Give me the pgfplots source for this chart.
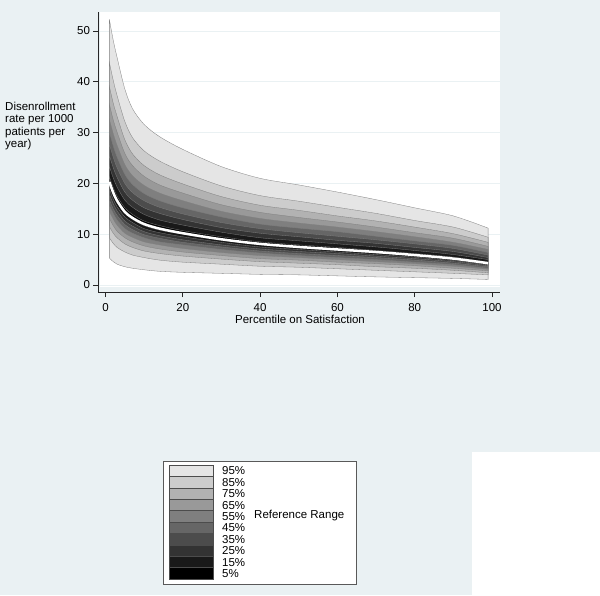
\documentclass[border=0pt]{standalone}
\usepackage{pgfplots}
\pgfplotsset{compat=1.18}
\usepackage{pgfplotstable}
\usepgfplotslibrary{fillbetween}
\usepackage{fontspec}
\setmainfont{Liberation Sans}
\definecolor{bgc}{HTML}{EAF1F3}
\definecolor{c95}{HTML}{E5E5E5}
\definecolor{c85}{HTML}{CCCCCC}
\definecolor{c75}{HTML}{B2B2B2}
\definecolor{c65}{HTML}{999999}
\definecolor{c55}{HTML}{7F7F7F}
\definecolor{c45}{HTML}{666666}
\definecolor{c35}{HTML}{4C4C4C}
\definecolor{c25}{HTML}{333333}
\definecolor{c15}{HTML}{191919}
\definecolor{c5}{HTML}{000000}

\pgfplotstableread{
x  m    l95  l85 l75  l65  l55  l45  l35  l25  l15  l5   u5   u15  u25  u35  u45  u55  u65  u75  u85  u95
1  20.3 5.3  9.3 11.5 13.1 14.5 15.7 16.8 17.9 18.9 19.8 21.3 23.4 25.5 27.7 30.1 32.6 35.6 39.1 43.8 52.3
2  18.2 4.6  8.2 10.2 11.7 13.0 14.1 15.0 16.0 16.9 17.8 19.2 21.1 23.1 25.2 27.4 29.8 32.5 35.8 40.3 48.2
3  16.6 4.1  7.4 9.3  10.6 11.8 12.8 13.7 14.6 15.4 16.2 17.5 19.3 21.2 23.1 25.2 27.5 30.1 33.2 37.3 44.8
5  14.4 3.6  6.5 8.1  9.3  10.2 11.1 11.9 12.6 13.4 14.1 15.2 16.7 18.3 20.0 21.8 23.7 25.9 28.6 32.2 38.6
7  13.2 3.3  5.9 7.4  8.5  9.4  10.2 10.9 11.6 12.3 12.9 13.9 15.3 16.7 18.2 19.8 21.5 23.5 25.8 29.0 34.7
10 12.0 3.0  5.4 6.7  7.7  8.5  9.3  9.9  10.5 11.1 11.7 12.6 13.9 15.2 16.6 18.0 19.6 21.4 23.5 26.4 31.6
14 11.1 2.7  4.9 6.2  7.1  7.9  8.5  9.2  9.7  10.3 10.8 11.7 12.8 14.1 15.3 16.6 18.1 19.7 21.7 24.4 29.2
20 10.2 2.5  4.5 5.7  6.5  7.2  7.9  8.4  8.9  9.5  10.0 10.7 11.8 12.9 14.0 15.2 16.6 18.1 19.9 22.3 26.7
30 9.0  2.3  4.1 5.1  5.8  6.4  7.0  7.5  7.9  8.4  8.8  9.5  10.4 11.3 12.3 13.4 14.5 15.8 17.4 19.5 23.3
40 8.1  2.1  3.7 4.6  5.2  5.8  6.3  6.7  7.1  7.5  7.9  8.5  9.3  10.2 11.1 12.0 13.1 14.3 15.7 17.6 21.0
50 7.5  2.0  3.5 4.3  4.9  5.4  5.8  6.2  6.6  7.0  7.3  7.9  8.7  9.5  10.3 11.2 12.2 13.3 14.7 16.5 19.7
60 7.0  1.8  3.2 4.0  4.5  5.0  5.4  5.8  6.2  6.5  6.8  7.4  8.1  8.8  9.6  10.5 11.4 12.4 13.6 15.3 18.3
70 6.5  1.6  2.9 3.6  4.2  4.6  5.0  5.4  5.7  6.0  6.3  6.8  7.5  8.2  8.9  9.6  10.5 11.4 12.6 14.1 16.8
80 5.9  1.45 2.6 3.3  3.8  4.2  4.5  4.9  5.2  5.5  5.8  6.2  6.8  7.4  8.1  8.7  9.5  10.3 11.4 12.7 15.2
90 5.2  1.3  2.3 2.9  3.3  3.7  4.0  4.3  4.6  4.8  5.1  5.5  6.0  6.6  7.2  7.8  8.4  9.2  10.1 11.4 13.6
99 4.3  1.1  2.0 2.4  2.8  3.1  3.3  3.6  3.8  4.0  4.2  4.5  5.0  5.4  5.9  6.4  7.0  7.6  8.4  9.4  11.2
}\bands

\begin{document}
\fontsize{11.5}{12.3}\selectfont
\begin{tikzpicture}[x=1pt,y=1pt]
\begin{axis}[
  at={(100pt,-287pt)}, anchor=south west,
  scale only axis, width=400pt, height=275pt,
  xmin=-1.42, xmax=102.07, ymin=-0.39, ymax=53.74,
  axis x line*=bottom, axis y line*=left,
  axis x line shift=5pt, axis y line shift=2pt,
  axis line style={black!85, line width=0.8pt, -},
  x axis line style={shorten <=-2pt},
  y axis line style={shorten <=-5pt},
  xtick={0,20,...,100}, ytick={0,10,...,50},
  tick align=outside, major tick length=5pt,
  tick style={black!85, line width=0.8pt},
  ymajorgrids, grid style={bgc, line width=0.7pt},
  /pgf/number format/assume math mode=true,
  xticklabel style={yshift=-2pt},
  yticklabel style={xshift=1pt},
  xlabel={Percentile on Satisfaction},
  xlabel style={inner sep=0pt, yshift=0pt},
  clip=false,
]
\begin{pgfonlayer}{axis background}
\fill[bgc] (axis description cs:-0.25,1.04364) rectangle (axis description cs:1.25,-0.6);
\fill[bgc] (axis description cs:-0.25,-0.6) rectangle (axis description cs:0.93,-1.12);
\fill[white] (axis description cs:0.93,-0.6) rectangle (axis description cs:1.25,-1.12);
\fill[white] (rel axis cs:0,0) rectangle (rel axis cs:1,1);
\end{pgfonlayer}
\pgfplotsinvokeforeach{95,85,75,65,55,45,35,25,15,5}{
  \addplot[draw=none, smooth, name path=u#1, forget plot] table[x=x,y=u#1]{\bands};
  \addplot[draw=none, smooth, name path=l#1, forget plot] table[x=x,y=l#1]{\bands};
  \addplot[fill=c#1, draw=gray, line width=0.3pt, forget plot] fill between[of=u#1 and l#1];
}
\addplot[white, smooth, line width=2.5pt, forget plot] table[x=x,y=m]{\bands};
\end{axis}
\node[anchor=base west, inner sep=0pt] at (5,-110.5) {Disenrollment};
\node[anchor=base west, inner sep=0pt] at (5,-122.8) {rate per 1000};
\node[anchor=base west, inner sep=0pt] at (5,-135.1) {patients per};
\node[anchor=base west, inner sep=0pt] at (5,-147.4) {year)};
% legend
\draw[black!65, line width=0.8pt, fill=white] (163,-461) rectangle (356,-584);
\foreach \p [count=\i from 0] in {95,85,75,65,55,45,35,25,15,5} {
  \draw[fill=c\p, draw=black!70, line width=0.5pt] (169,{-465-11.4*\i}) rectangle (213,{-465-11.4*(\i+1)});
  \node[anchor=west, inner sep=0pt] at (222,{-465-11.4*\i-5.9}) {\p\%};
}
\node[anchor=west, inner sep=0pt] at (254,-516) {Reference Range};
\pgfresetboundingbox
\path (0,0) rectangle (600,-595);
\end{tikzpicture}
\end{document}
